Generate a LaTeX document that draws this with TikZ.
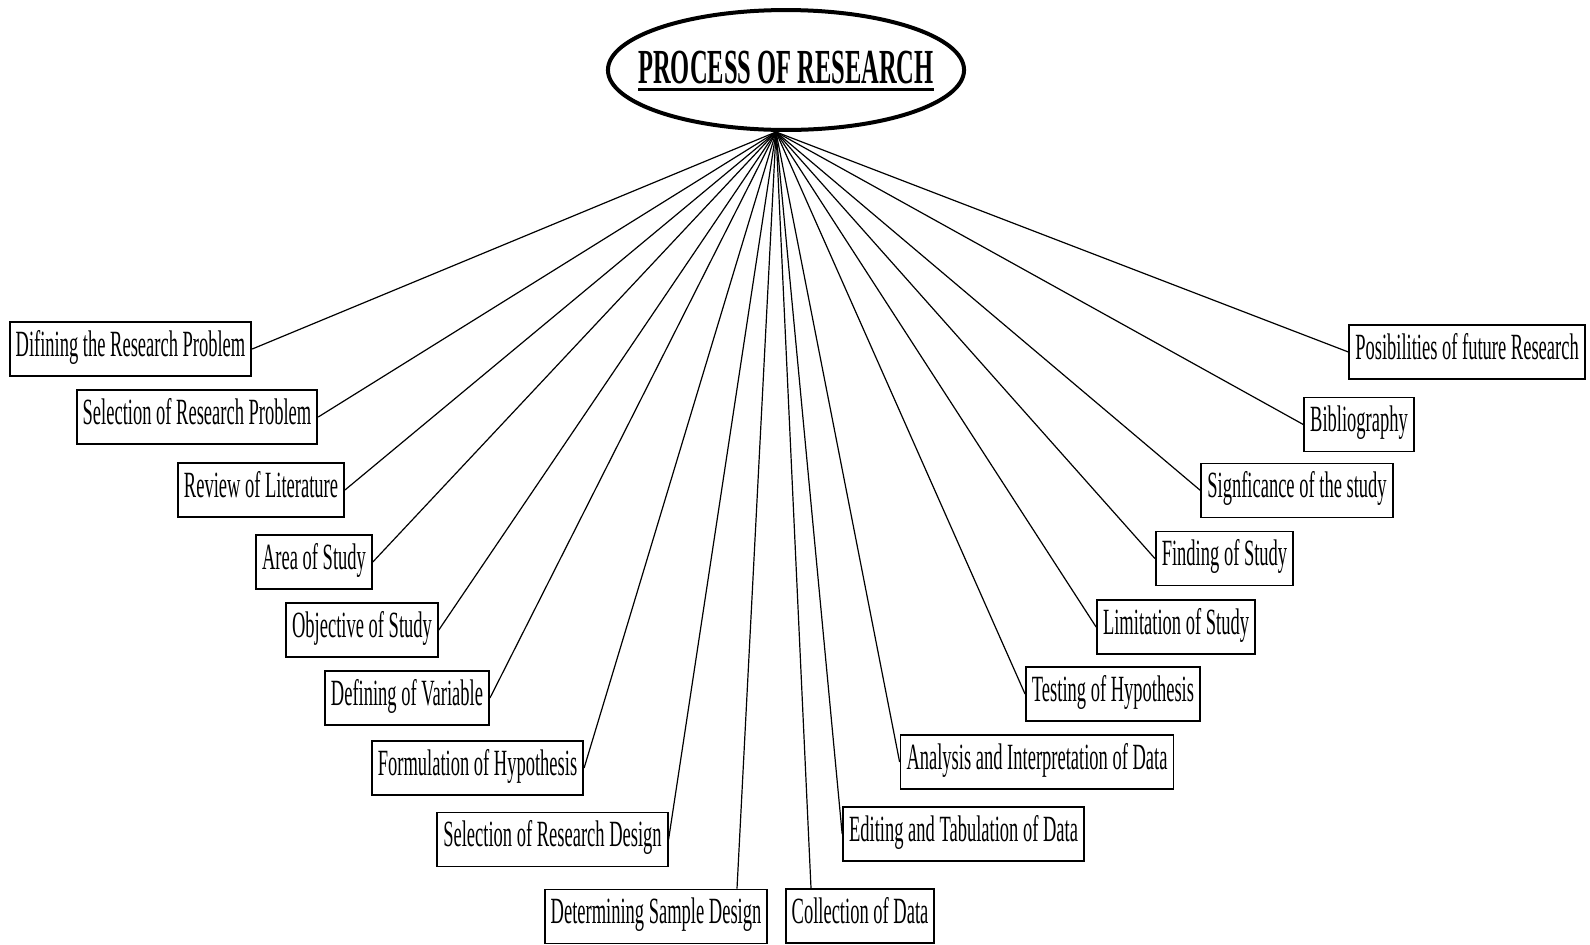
\documentclass[tikz,border=0pt]{standalone}
\usepackage{fontspec}
\setmainfont{Liberation Serif}[FakeStretch=0.5]
\usetikzlibrary{shapes.geometric}
\newcommand{\ulined}[1]{\sbox0{#1}\rlap{\rule[-4pt]{\wd0}{1.6pt}}\usebox0}

\begin{document}
\begin{tikzpicture}[x=0.5pt,y=-0.5pt,
box/.style={draw,line width=0.9pt,font=\fontsize{18.5}{21}\selectfont,inner xsep=3pt,inner ysep=5pt,text height=12pt,text depth=5pt},
headline/.style={draw,ellipse,line width=2pt,font=\fontsize{24.5}{27}\selectfont\bfseries,inner xsep=-10.9pt,inner ysep=11.7pt,text height=16pt,text depth=3pt}]
\useasboundingbox (0,0) rectangle (1590,944);
\node[headline] (P) at (786,70) {\ulined{PROCESS OF RESEARCH}};
\coordinate (O) at ([xshift=-5pt]P.south);
\node[box] (A) at (130.5,349) {Difining the Research Problem};
\node[box] (B) at (197,417) {Selection of Research Problem};
\node[box] (C) at (261,490) {Review of Literature};
\node[box] (D) at (314,562) {Area of Study};
\node[box] (E) at (362,630) {Objective of Study};
\node[box] (F) at (407,698) {Defining of Variable};
\node[box] (G) at (477.5,768) {Formulation of Hypothesis};
\node[box] (H) at (552.5,839.5) {Selection of Research Design};
\node[box] (I) at (656,916.5) {Determining Sample Design};
\node[box] (J) at (860,916) {Collection of Data};
\node[box] (K) at (963.5,834) {Editing and Tabulation of Data};
\node[box] (L) at (1037,762) {Analysis and Interpretation of Data};
\node[box] (M) at (1113,694) {Testing of Hypothesis};
\node[box] (N) at (1176,627) {Limitation of Study};
\node[box] (Q) at (1224.5,558.5) {Finding of Study};
\node[box] (R) at (1297,490.5) {Signficance of the study};
\node[box] (S) at (1359,424.5) {Bibliography};
\node[box] (T) at (1467,352) {Posibilities of future Research};
\path[line width=0.6pt]
(O) edge (A.east)
(O) edge (B.east)
(O) edge (C.east)
(O) edge (D.east)
(O) edge (E.east)
(O) edge (F.east)
(O) edge (G.east)
(O) edge (H.east)
(O) edge ([xshift=40.5pt]I.north)
(O) edge ([xshift=-24.5pt]J.north)
(O) edge (K.west)
(O) edge (L.west)
(O) edge (M.west)
(O) edge (N.west)
(O) edge (Q.west)
(O) edge (R.west)
(O) edge (S.west)
(O) edge (T.west);
\end{tikzpicture}
\end{document}
